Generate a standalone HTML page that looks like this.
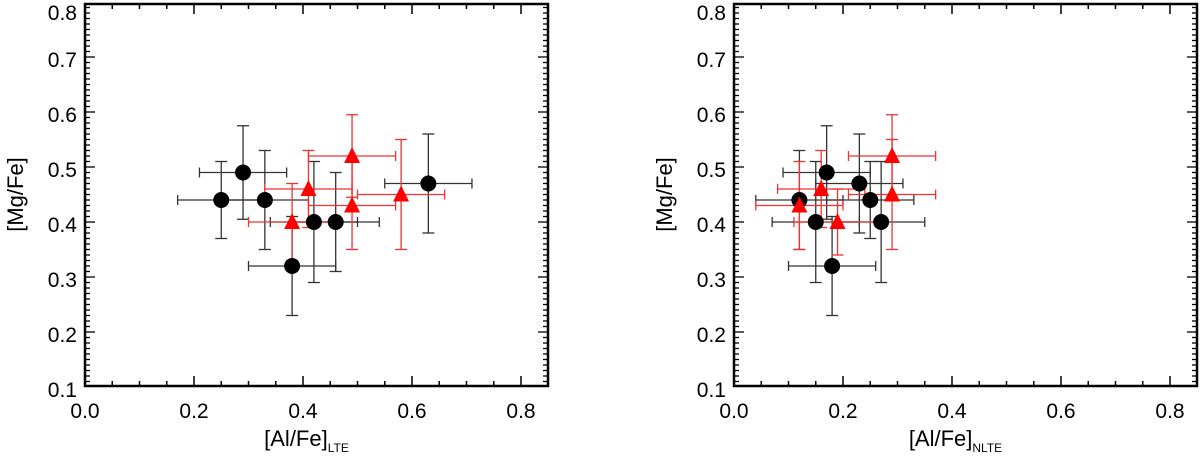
<!DOCTYPE html>
<html><head><meta charset="utf-8"><style>
body{margin:0;background:#fff;}
svg text{font-family:"Liberation Sans","DejaVu Sans",sans-serif;fill:#000;}
</style></head><body>
<svg id="chart" width="1200" height="457" viewBox="0 0 1200 457" xmlns="http://www.w3.org/2000/svg"></svg>
<script>
const lteBlackX=[0.25,0.29,0.33,0.38,0.42,0.46,0.63];
const lteBlackY=[0.44,0.49,0.44,0.32,0.40,0.40,0.47];
const lteBlackYErr=[0.07,0.085,0.09,0.09,0.11,0.09,0.09];
const lteRedX=[0.38,0.41,0.49,0.49,0.58];
const lteRedY=[0.40,0.46,0.52,0.43,0.45];
const lteRedYErr=[0.07,0.07,0.075,0.08,0.10];
const nlteBlackX=[0.12,0.17,0.23,0.25,0.15,0.27,0.18];
const nlteBlackY=[0.44,0.49,0.47,0.44,0.40,0.40,0.32];
const nlteBlackYErr=[0.09,0.085,0.09,0.07,0.11,0.11,0.09];
const nlteRedX=[0.12,0.16,0.19,0.29,0.29];
const nlteRedY=[0.43,0.46,0.40,0.52,0.45];
const nlteRedYErr=[0.08,0.07,0.06,0.075,0.10];
const xErr=0.08;
const xTicks=["0.0","0.2","0.4","0.6","0.8"];
const yTicks=["0.1","0.2","0.3","0.4","0.5","0.6","0.7","0.8"];

const NS="http://www.w3.org/2000/svg";
const svg=document.getElementById('chart');
function mk(tag,attrs,parent){const e=document.createElementNS(NS,tag);for(const k in attrs)e.setAttribute(k,attrs[k]);(parent||svg).appendChild(e);return e;}

function panel(name,x0,xLabelSub,bx,by,bye,rx,ry,rye){
  const L=x0,R=x0+463,T=4,B=386;
  const sx=v=>x0+v*545;
  const sy=v=>387-(v-0.1)*550;
  const g=mk('g',{});
  
  
  for(let i=0;i<=17;i++){const v=i*0.05;const x=sx(v);if(x>R-1)continue;const len=(i%4==0)?10:5;
    mk('line',{x1:x,x2:x,y1:B,y2:B-len,stroke:'#000','stroke-width':1.5},g);
    mk('line',{x1:x,x2:x,y1:T,y2:T+len,stroke:'#000','stroke-width':1.5},g);}
  for(let i=0;i<=70;i++){const v=0.1+i*0.01;const y=sy(v);if(y<T+1||y>B-1)continue;const len=(i%10==0)?10:5;
    mk('line',{x1:L,x2:L+len,y1:y,y2:y,stroke:'#000','stroke-width':1.3},g);
    mk('line',{x1:R,x2:R-len,y1:y,y2:y,stroke:'#000','stroke-width':1.3},g);}
  mk('rect',{x:L,y:T,width:R-L,height:B-T,fill:'none',stroke:'#000','stroke-width':2.5},g);
  xTicks.forEach(t=>{const e=mk('text',{x:sx(parseFloat(t)),y:418,'text-anchor':'middle','font-size':21},g);e.textContent=t;
    
    });
  yTicks.forEach(t=>{const e=mk('text',{x:L-8,y:Math.max(sy(parseFloat(t))+10,20),'text-anchor':'end','font-size':21},g);e.textContent=t;
    
    });
  const xl=mk('text',{x:(L+R)/2-10,y:446,'text-anchor':'middle','font-size':22},g);
  xl.innerHTML='[Al/Fe]<tspan font-size="12" dy="6">'+xLabelSub+'</tspan>';
  
  
  const yl=mk('text',{x:0,y:0,'text-anchor':'middle','font-size':22,transform:`translate(${L-62},${sy(0.45)}) rotate(-90)`},g);
  yl.textContent='[Mg/Fe]';
  
  
  function err(x,y,ye,col){
    const cx=sx(x),cy=sy(y),x1=sx(x-xErr),x2=sx(x+xErr),y1=sy(y+ye),y2=sy(y-ye);
    const e=mk('g',{stroke:col,'stroke-width':1.3},g);
    
    
    mk('line',{x1:x1,x2:x2,y1:cy,y2:cy},e);
    mk('line',{x1:cx,x2:cx,y1:y1,y2:y2},e);
    mk('line',{x1:x1,x2:x1,y1:cy-5,y2:cy+5},e);
    mk('line',{x1:x2,x2:x2,y1:cy-5,y2:cy+5},e);
    mk('line',{x1:cx-6,x2:cx+6,y1:y1,y2:y1},e);
    mk('line',{x1:cx-6,x2:cx+6,y1:y2,y2:y2},e);
  }
  bx.forEach((x,i)=>err(x,by[i],bye[i],'#333'));
  rx.forEach((x,i)=>err(x,ry[i],rye[i],'#e33'));
  bx.forEach((x,i)=>{const c=mk('circle',{cx:sx(x),cy:sy(by[i]),r:8,fill:'#000'},g);
    
    });
  rx.forEach((x,i)=>{const cx=sx(x),cy=sy(ry[i]);
    const p=mk('polygon',{points:`${cx-8},${cy+7} ${cx+8},${cy+7} ${cx},${cy-9}`,fill:'#f00'},g);
    
    });
}
panel('lte',85,'LTE',lteBlackX,lteBlackY,lteBlackYErr,lteRedX,lteRedY,lteRedYErr);
panel('nlte',734,'NLTE',nlteBlackX,nlteBlackY,nlteBlackYErr,nlteRedX,nlteRedY,nlteRedYErr);
</script>
</body></html>
